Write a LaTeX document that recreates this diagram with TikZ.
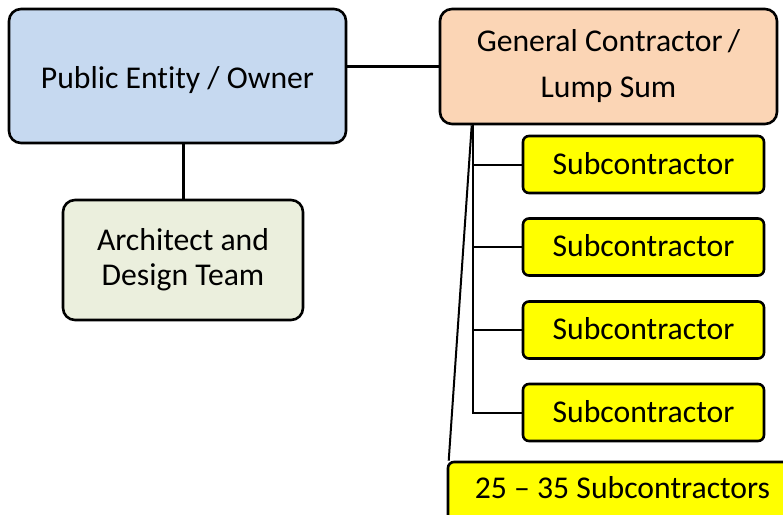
\documentclass[tikz,border=0pt]{standalone}
\usepackage{fontspec}
\setmainfont{Carlito}[Ligatures=NoCommon]
\usetikzlibrary{calc}
\definecolor{ownerblue}{HTML}{C6D9F0}
\definecolor{gcpeach}{HTML}{FBD5B5}
\definecolor{archgreen}{HTML}{EBEFDD}
\definecolor{subyellow}{HTML}{FFFF00}
\tikzset{
  box/.style={draw=black, line width=2.6pt, rounded corners=12pt, align=center,
    inner sep=0pt},
  subbox/.style={box, fill=subyellow, rounded corners=6pt,
    minimum width=241pt, minimum height=57pt, text height=25pt, text depth=6pt},
  link/.style={line width=3pt},
  sublink/.style={line width=2pt},
}
\begin{document}
\begin{tikzpicture}[x=1pt, y=-1pt, font=\fontsize{31.7}{35}\selectfont]
  \useasboundingbox (0,0) rectangle (783,514);
  \clip (0,0) rectangle (783,514);

  % top-level parties
  \node (owner) [box, fill=ownerblue, minimum width=337pt, minimum height=134pt,
    text height=30pt, text depth=6pt]
    at (177.5,76) {Public Entity / Owner};
  \node (gc) [box, fill=gcpeach, minimum width=337pt, minimum height=115pt,
    font=\fontsize{31.7}{46}\selectfont]
    at (608.5,66.5) {General Contractor\,/\\Lump Sum};
  \node (arch) [box, fill=archgreen, minimum width=240pt, minimum height=120pt,
    execute at begin node={\vspace*{4pt}}]
    at (183,260) {Architect and\\Design Team};

  % subcontractors
  \node (sub1) [subbox] at (643.5,164.5) {Subcontractor};
  \node (sub2) [subbox] at (643.5,247)   {Subcontractor};
  \node (sub3) [subbox] at (643.5,330)   {Subcontractor};
  \node (sub4) [subbox] at (643.5,412.5) {Subcontractor};
  \node (many) [subbox, minimum width=380pt, minimum height=104pt] at (638,514) {};
  \node (manytext) [anchor=base] at (622.5,498) {25 -- 35 Subcontractors};

  % connectors
  \draw[link] (owner.east |- gc.west) -- (gc.west);
  \draw[link] (arch.north |- owner.south) -- (arch.north);

  \coordinate (trunk) at ($(gc.south west)+(34,0)$);
  \draw[sublink] (trunk) -- (trunk |- sub4.west) -- (sub4.west);
  \draw[sublink] (trunk |- sub1.west) -- (sub1.west);
  \draw[sublink] (trunk |- sub2.west) -- (sub2.west);
  \draw[sublink] (trunk |- sub3.west) -- (sub3.west);
  \draw[sublink] ($(trunk)+(-1,0)$) -- ($(many.north west)+(2,0)$);
\end{tikzpicture}
\end{document}
